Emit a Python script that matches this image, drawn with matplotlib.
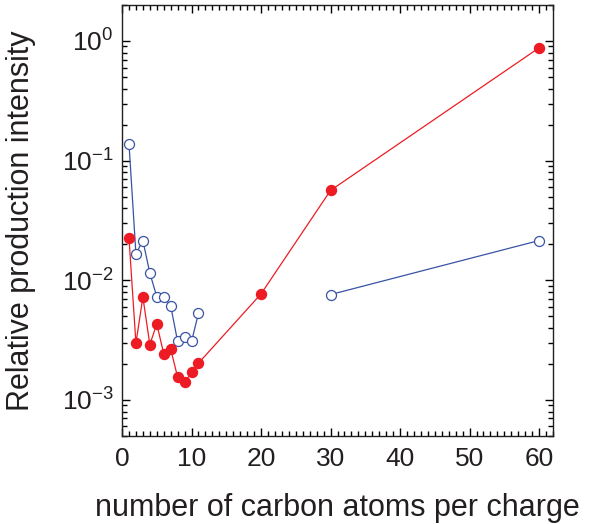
import matplotlib
matplotlib.use("Agg")
import matplotlib.pyplot as plt
from matplotlib.ticker import LogLocator, MultipleLocator, NullFormatter

plt.rcParams["font.family"] = ["Liberation Sans", "DejaVu Sans"]

# red (filled) series
red_x = [1, 2, 3, 4, 5, 6, 7, 8, 9, 10, 11, 20, 30, 60]
red_y = [0.0226, 0.00298, 0.00723, 0.0029, 0.00432, 0.00243, 0.00266,
         0.00155, 0.0014, 0.0017, 0.00203, 0.0077, 0.0564, 0.877]

# blue (open) series, two separate segments
blue_x1 = [1, 2, 3, 4, 5, 6, 7, 8, 9, 10, 11]
blue_y1 = [0.139, 0.0166, 0.0215, 0.0115, 0.0073, 0.0073, 0.00612,
           0.00308, 0.00339, 0.00308, 0.00531]
blue_x2 = [30, 60]
blue_y2 = [0.0076, 0.0215]

RED = "#ED1C24"
BLUE = "#3953A4"

fig = plt.figure(figsize=(6.02, 5.24), dpi=100)
ax = fig.add_axes([0.2027, 0.168, 0.7159, 0.8225])

for bx, by in [(blue_x1, blue_y1), (blue_x2, blue_y2)]:
    ax.plot(bx, by, color=BLUE, lw=0.9, marker="o", ms=7.2,
            mfc="white", mec=BLUE, mew=0.9, zorder=2)
ax.plot(red_x, red_y, color=RED, lw=0.9, marker="o", ms=7.2,
        mfc=RED, mec=RED, zorder=3)

ax.set_yscale("log")
ax.set_xlim(0, 62)
ax.set_ylim(5e-4, 2.0)

ax.xaxis.set_major_locator(MultipleLocator(10))
ax.xaxis.set_minor_locator(MultipleLocator(1))
ax.yaxis.set_major_locator(LogLocator(base=10, numticks=10))
ax.yaxis.set_minor_locator(LogLocator(base=10, subs=range(2, 10), numticks=10))
ax.yaxis.set_minor_formatter(NullFormatter())

ax.tick_params(which="both", direction="in", top=True, right=True,
               width=1.0, labelsize=19, labelcolor="#231F20")
ax.tick_params(which="major", length=6)
ax.tick_params(which="minor", length=3.5)
ax.tick_params(axis="x", pad=8)
ax.tick_params(axis="y", pad=6)
for sp in ax.spines.values():
    sp.set_linewidth(1.0)
    sp.set_color("#231F20")

ax.set_xlabel("number of carbon atoms per charge", fontsize=22,
              color="#231F20", va="center")
ax.xaxis.set_label_coords(0.5, -0.167)
ax.set_ylabel("Relative production intensity", fontsize=22,
              color="#231F20", va="center")
ax.yaxis.set_label_coords(-0.234, 0.5)

fig.savefig("out.png", dpi=100)
